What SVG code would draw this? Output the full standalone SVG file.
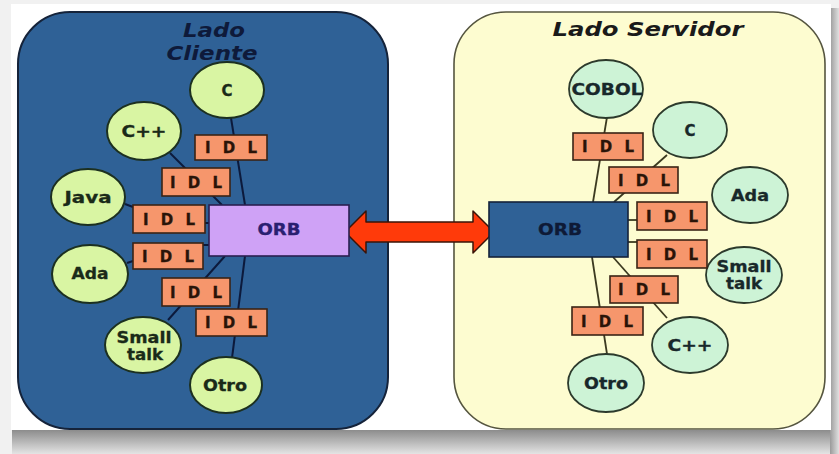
<svg xmlns="http://www.w3.org/2000/svg" width="839" height="454" viewBox="0 0 839 454">
<style>
.lc{fill:#d9f5a3;stroke:#1c3020;stroke-width:2}
.rc{fill:#cdf3d6;stroke:#2c3a2c;stroke-width:1.8}
.idl{fill:#f6966c;stroke:#3a2416;stroke-width:1.6}
.lt{font-family:"DejaVu Sans",Verdana,sans-serif;font-weight:bold;font-size:15px;fill:#1a2a18;text-anchor:middle;stroke:#1a2a18;stroke-width:0.3}
.rt{font-family:"DejaVu Sans",Verdana,sans-serif;font-weight:bold;font-size:15px;fill:#18282a;text-anchor:middle;stroke:#18282a;stroke-width:0.3}
.it{font-family:"DejaVu Sans",Verdana,sans-serif;font-weight:bold;font-size:15px;fill:#2a1408;text-anchor:middle;stroke:#2a1408;stroke-width:0.3}
.ttl{font-family:"DejaVu Sans",Verdana,sans-serif;font-weight:bold;font-style:italic;font-size:19px;text-anchor:middle}
.ll{stroke:#0c1a3c;stroke-width:2;fill:none}
.rl{stroke:#3c3a20;stroke-width:1.8;fill:none}
</style>
<defs>
<linearGradient id="shb" x1="0" y1="0" x2="0" y2="1">
<stop offset="0" stop-color="#8c8c8c"/>
<stop offset="1" stop-color="#e4e4e4"/>
</linearGradient>
<linearGradient id="shr" x1="0" y1="0" x2="1" y2="0">
<stop offset="0" stop-color="#9a9a9a"/>
<stop offset="1" stop-color="#e0e0e0"/>
</linearGradient>
</defs>
<rect x="0" y="0" width="839" height="454" fill="#f1f1f1"/>
<rect x="12" y="430" width="827" height="24" fill="url(#shb)"/>
<rect x="830" y="8" width="9" height="446" fill="url(#shr)"/>
<rect x="11" y="4" width="820" height="426" fill="#ffffff"/>

<g id="panel-cliente">
<rect x="18" y="12" width="370" height="417" rx="52" ry="52" fill="#2f6196" stroke="#15233a" stroke-width="2"/>
<text class="ttl" fill="#0e1a3a" x="214" y="37" textLength="62" lengthAdjust="spacingAndGlyphs">Lado</text>
<text class="ttl" fill="#0e1a3a" x="212" y="60" textLength="91" lengthAdjust="spacingAndGlyphs">Cliente</text>
</g>
<g id="panel-servidor">
<rect x="454" y="12" width="371" height="417" rx="52" ry="52" fill="#fdfcd0" stroke="#55553f" stroke-width="1.6"/>
<text class="ttl" fill="#1a1a1a" x="648" y="36" textLength="191" lengthAdjust="spacingAndGlyphs">Lado Servidor</text>
</g>

<g id="connectors">
<line class="ll" x1="231" y1="118" x2="245" y2="205"/>
<line class="ll" x1="170" y1="153" x2="222" y2="205"/>
<line class="ll" x1="125" y1="204" x2="133" y2="207"/>
<line class="ll" x1="205" y1="223" x2="209" y2="223"/>
<line class="ll" x1="127" y1="263" x2="133" y2="261"/>
<line class="ll" x1="203" y1="245" x2="209" y2="245"/>
<line class="ll" x1="168" y1="320" x2="225" y2="256"/>
<line class="ll" x1="232" y1="358" x2="245" y2="256"/>
<line class="rl" x1="607" y1="117" x2="593" y2="202"/>
<line class="rl" x1="667" y1="155" x2="614" y2="202"/>
<line class="rl" x1="628" y1="220" x2="637" y2="220"/>
<line class="rl" x1="628" y1="242" x2="637" y2="242"/>
<line class="rl" x1="613" y1="257" x2="667" y2="318"/>
<line class="rl" x1="592" y1="257" x2="607" y2="354"/>
<polygon points="345,232 366,211 366,222 473,222 473,211 494,232 473,253 473,242 366,242 366,253" fill="#ff3a0a" stroke="#3a1408" stroke-width="1.5" stroke-linejoin="round"/>
</g>

<g id="orb-cliente">
<rect x="209" y="205" width="140" height="51" fill="#cfa2f6" stroke="#2a2050" stroke-width="1.6"/>
<text class="lt" x="279" y="235" textLength="43" lengthAdjust="spacingAndGlyphs" style="fill:#2a2070;stroke:#2a2070">ORB</text>
</g>
<g id="orb-servidor">
<rect x="489" y="202" width="139" height="55" fill="#2f6196" stroke="#14223a" stroke-width="1.6"/>
<text class="lt" x="560" y="235" textLength="44" lengthAdjust="spacingAndGlyphs" style="fill:#0e1a36;stroke:#0e1a36">ORB</text>
</g>

<g id="c-cliente"><ellipse class="lc" cx="227" cy="90" rx="37" ry="28"/><text class="lt" x="227" y="96">C</text></g>
<g id="cpp-cliente"><ellipse class="lc" cx="144" cy="131" rx="37" ry="29"/><text class="lt" x="144" y="137" textLength="45" lengthAdjust="spacingAndGlyphs">C++</text></g>
<g id="java-cliente"><ellipse class="lc" cx="88" cy="197" rx="37" ry="28"/><text class="lt" x="88" y="203" textLength="47" lengthAdjust="spacingAndGlyphs">Java</text></g>
<g id="ada-cliente"><ellipse class="lc" cx="90" cy="274" rx="38" ry="29"/><text class="lt" x="90" y="279" textLength="37" lengthAdjust="spacingAndGlyphs">Ada</text></g>
<g id="smalltalk-cliente"><ellipse class="lc" cx="143" cy="345" rx="38" ry="28"/><text class="lt" x="144" y="343" textLength="55" lengthAdjust="spacingAndGlyphs">Small</text><text class="lt" x="145" y="360" textLength="36" lengthAdjust="spacingAndGlyphs">talk</text></g>
<g id="otro-cliente"><ellipse class="lc" cx="226" cy="385" rx="36" ry="28"/><text class="lt" x="225" y="391" textLength="44" lengthAdjust="spacingAndGlyphs">Otro</text></g>

<g id="idl-l1"><rect class="idl" x="195" y="135" width="72" height="25"/><text class="it" x="231" y="153" textLength="52" lengthAdjust="spacing">IDL</text></g>
<g id="idl-l2"><rect class="idl" x="162" y="168" width="68" height="28"/><text class="it" x="196" y="188" textLength="52" lengthAdjust="spacing">IDL</text></g>
<g id="idl-l3"><rect class="idl" x="133" y="205" width="72" height="28"/><text class="it" x="169" y="225" textLength="52" lengthAdjust="spacing">IDL</text></g>
<g id="idl-l4"><rect class="idl" x="133" y="243" width="70" height="26"/><text class="it" x="168" y="262" textLength="52" lengthAdjust="spacing">IDL</text></g>
<g id="idl-l5"><rect class="idl" x="162" y="278" width="68" height="28"/><text class="it" x="196" y="298" textLength="52" lengthAdjust="spacing">IDL</text></g>
<g id="idl-l6"><rect class="idl" x="196" y="309" width="71" height="27"/><text class="it" x="231" y="328" textLength="52" lengthAdjust="spacing">IDL</text></g>

<g id="cobol-servidor"><ellipse class="rc" cx="606" cy="89" rx="37" ry="29"/><text class="rt" x="607" y="95" textLength="71" lengthAdjust="spacingAndGlyphs">COBOL</text></g>
<g id="c-servidor"><ellipse class="rc" cx="690" cy="130" rx="37" ry="28"/><text class="rt" x="690" y="136">C</text></g>
<g id="ada-servidor"><ellipse class="rc" cx="750" cy="195" rx="38" ry="28"/><text class="rt" x="750" y="201" textLength="38" lengthAdjust="spacingAndGlyphs">Ada</text></g>
<g id="smalltalk-servidor"><ellipse class="rc" cx="744" cy="275" rx="38" ry="28"/><text class="rt" x="744" y="272" textLength="55" lengthAdjust="spacingAndGlyphs">Small</text><text class="rt" x="744" y="289" textLength="36" lengthAdjust="spacingAndGlyphs">talk</text></g>
<g id="cpp-servidor"><ellipse class="rc" cx="690" cy="345" rx="38" ry="28"/><text class="rt" x="690" y="351" textLength="45" lengthAdjust="spacingAndGlyphs">C++</text></g>
<g id="otro-servidor"><ellipse class="rc" cx="606" cy="383" rx="38" ry="29"/><text class="rt" x="606" y="389" textLength="44" lengthAdjust="spacingAndGlyphs">Otro</text></g>

<g id="idl-r1"><rect class="idl" x="573" y="133" width="70" height="27"/><text class="it" x="608" y="152" textLength="52" lengthAdjust="spacing">IDL</text></g>
<g id="idl-r2"><rect class="idl" x="609" y="167" width="69" height="26"/><text class="it" x="644" y="186" textLength="52" lengthAdjust="spacing">IDL</text></g>
<g id="idl-r3"><rect class="idl" x="637" y="202" width="70" height="28"/><text class="it" x="672" y="222" textLength="52" lengthAdjust="spacing">IDL</text></g>
<g id="idl-r4"><rect class="idl" x="637" y="240" width="70" height="28"/><text class="it" x="672" y="260" textLength="52" lengthAdjust="spacing">IDL</text></g>
<g id="idl-r5"><rect class="idl" x="610" y="276" width="68" height="27"/><text class="it" x="644" y="295" textLength="52" lengthAdjust="spacing">IDL</text></g>
<g id="idl-r6"><rect class="idl" x="572" y="307" width="71" height="28"/><text class="it" x="607" y="327" textLength="52" lengthAdjust="spacing">IDL</text></g>
</svg>
